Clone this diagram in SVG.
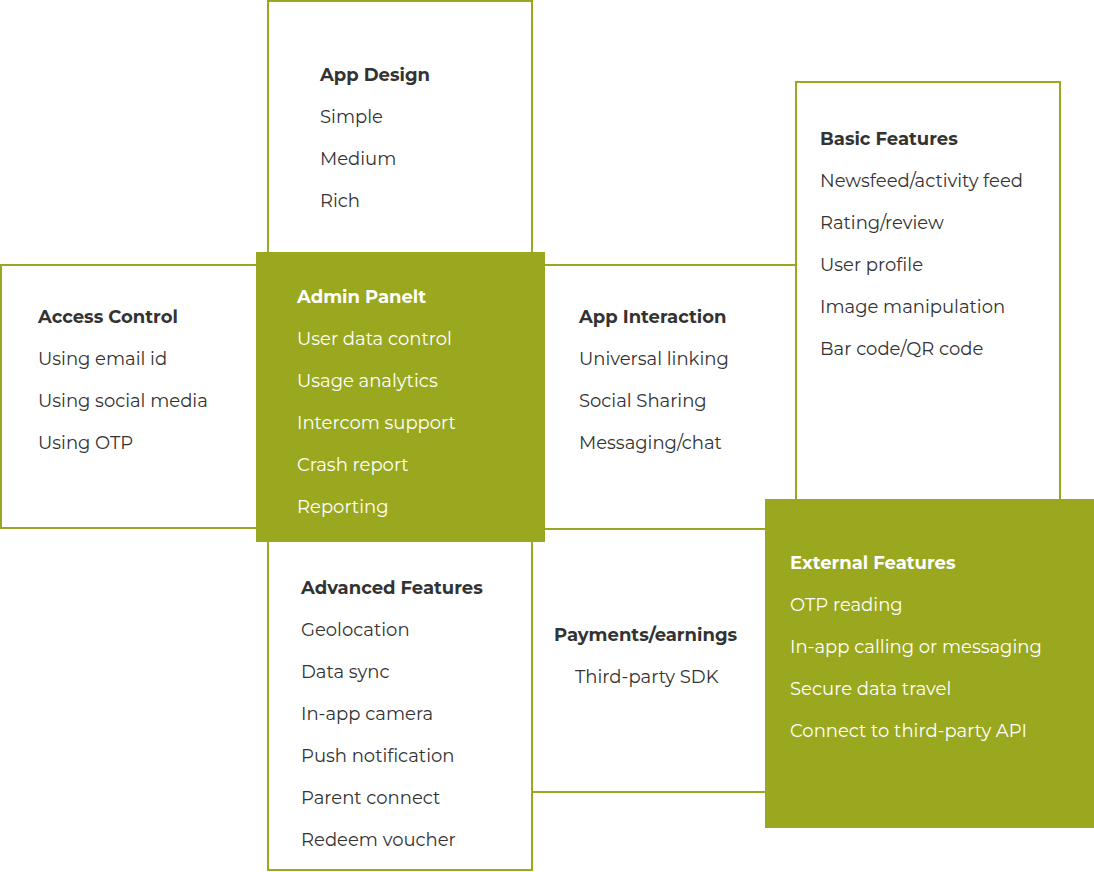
<svg xmlns="http://www.w3.org/2000/svg" width="1094" height="872" viewBox="0 0 1094 872">
<style>
.o{fill:#fff;stroke:#99a81e;stroke-width:2}
.f{fill:#99a81e}
.ln{stroke:#99a81e;stroke-width:2;fill:none}
text{font-family:Montserrat,"Open Sans","Liberation Sans",sans-serif;font-size:18px;fill:#333}
.h{font-weight:bold}
.w{fill:#fff}
</style>
<rect width="1094" height="872" fill="#fff"/>
<g id="connectors">
<line class="ln" x1="544" y1="265" x2="796" y2="265"/>
<line class="ln" x1="544" y1="529" x2="766" y2="529"/>
<line class="ln" x1="532" y1="792" x2="766" y2="792"/>
</g>
<g id="app-design"><rect class="o" x="268" y="1" width="264" height="260"/>
<text x="320" y="81" class="h">App Design</text><text x="320" y="123">Simple</text><text x="320" y="165">Medium</text><text x="320" y="207">Rich</text></g>
<g id="access-control"><rect class="o" x="1" y="265" width="262" height="263"/>
<text x="38" y="323" class="h">Access Control</text><text x="38" y="365">Using email id</text><text x="38" y="407">Using social media</text><text x="38" y="449">Using OTP</text></g>
<g id="basic-features"><rect class="o" x="796" y="82" width="264" height="425"/>
<text x="820" y="145" class="h">Basic Features</text><text x="820" y="187">Newsfeed/activity feed</text><text x="820" y="229">Rating/review</text><text x="820" y="271">User profile</text><text x="820" y="313">Image manipulation</text><text x="820" y="355">Bar code/QR code</text></g>
<g id="app-interaction">
<text x="579" y="323" class="h">App Interaction</text><text x="579" y="365">Universal linking</text><text x="579" y="407">Social Sharing</text><text x="579" y="449">Messaging/chat</text></g>
<g id="advanced-features"><rect class="o" x="268" y="535" width="264" height="335"/>
<text x="301" y="594" class="h">Advanced Features</text><text x="301" y="636">Geolocation</text><text x="301" y="678">Data sync</text><text x="301" y="720">In-app camera</text><text x="301" y="762">Push notification</text><text x="301" y="804">Parent connect</text><text x="301" y="846">Redeem voucher</text></g>
<g id="admin-panel"><rect class="f" x="256" y="252" width="289" height="290"/>
<text x="297" y="303" class="h w">Admin Panelt</text><text x="297" y="345" class="w">User data control</text><text x="297" y="387" class="w">Usage analytics</text><text x="297" y="429" class="w">Intercom support</text><text x="297" y="471" class="w">Crash report</text><text x="297" y="513" class="w">Reporting</text></g>
<g id="payments">
<text x="554" y="641" class="h">Payments/earnings</text><text x="575" y="683">Third-party SDK</text></g>
<g id="external-features"><rect class="f" x="765" y="499" width="329" height="329"/>
<text x="790" y="569" class="h w">External Features</text><text x="790" y="611" class="w">OTP reading</text><text x="790" y="653" class="w">In-app calling or messaging</text><text x="790" y="695" class="w">Secure data travel</text><text x="790" y="737" class="w">Connect to third-party API</text></g>
</svg>
